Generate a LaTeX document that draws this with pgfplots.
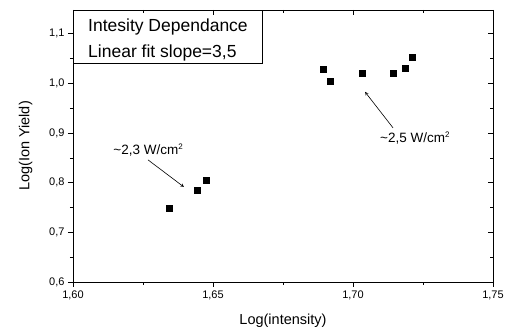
\documentclass[border=0pt]{standalone}
\usepackage{pgfplots}
\pgfplotsset{compat=1.18}
\usepackage{fontspec}
\setmainfont{Liberation Sans}
\begin{document}
\begin{tikzpicture}[x=1pt,y=1pt]
\path[use as bounding box] (-73pt,-54pt) rectangle (433pt,282pt);
\pgfplotsset{common/.style={
  at={(0pt,0pt)}, anchor=south west,
  scale only axis, width=420pt, height=272pt,
  xmin=1.60, xmax=1.75, ymin=0.6, ymax=1.148,
  xtick={1.60,1.65,1.70,1.75}, ytick={0.6,0.7,0.8,0.9,1.0,1.1},
  minor xtick={1.625,1.675,1.725}, minor ytick={0.65,0.75,0.85,0.95,1.05},
  axis line style={line width=0.9pt},
  major tick length=5pt, minor tick length=3pt,
  every tick/.style={black, line width=0.8pt},
}}
\begin{axis}[common,
  tick align=outside,
  xtick pos=bottom, ytick pos=left,
  /pgf/number format/assume math mode=true,
  xticklabel style={font=\fontsize{11}{13}\selectfont, /pgf/number format/.cd, fixed, fixed zerofill, precision=2, use comma},
  yticklabel style={font=\fontsize{11}{13}\selectfont, /pgf/number format/.cd, fixed, fixed zerofill, precision=1, use comma},
  xlabel={Log(intensity)}, ylabel={Log(Ion Yield)},
  label style={font=\fontsize{14.5}{16}\selectfont},
  xlabel style={yshift=-8pt},
  ylabel style={yshift=10pt},
]
\addplot[only marks, mark=square*, mark size=3pt, black] coordinates {
(1.6345,0.7478) (1.6445,0.7855) (1.6475,0.8056)
(1.6894,1.029) (1.6919,1.0046) (1.7033,1.0214)
(1.7143,1.0214) (1.7185,1.030) (1.7211,1.053)
};
\node[font=\fontsize{13.5}{15}\selectfont] at (axis cs:1.6268,0.866) {\textasciitilde2,3 W/cm\raisebox{5pt}{\fontsize{8}{9}\selectfont 2}};
\draw[-stealth, line width=0.6pt] (axis cs:1.6268,0.846) -- (axis cs:1.6396,0.7915);
\node[font=\fontsize{13.5}{15}\selectfont] at (axis cs:1.7221,0.890) {\textasciitilde2,5 W/cm\raisebox{5pt}{\fontsize{8}{9}\selectfont 2}};
\draw[-stealth, line width=0.6pt] (axis cs:1.7143,0.9105) -- (axis cs:1.7043,0.983);
\draw[line width=0.9pt, fill=white] (axis cs:1.60,1.148) rectangle (axis cs:1.6675,1.0396);
\node[anchor=base west, font=\fontsize{17.5}{20}\selectfont, inner sep=0pt, xshift=15pt, yshift=-22pt] at (axis cs:1.60,1.148) {Intesity Dependance};
\node[anchor=base west, font=\fontsize{17.5}{20}\selectfont, inner sep=0pt, xshift=15pt, yshift=-47.5pt] at (axis cs:1.60,1.148) {Linear fit slope=3,5};
\end{axis}
\begin{axis}[common,
  tick align=inside,
  xtick pos=top, ytick pos=right,
  xticklabels={}, yticklabels={},
]
\end{axis}
\end{tikzpicture}
\end{document}
